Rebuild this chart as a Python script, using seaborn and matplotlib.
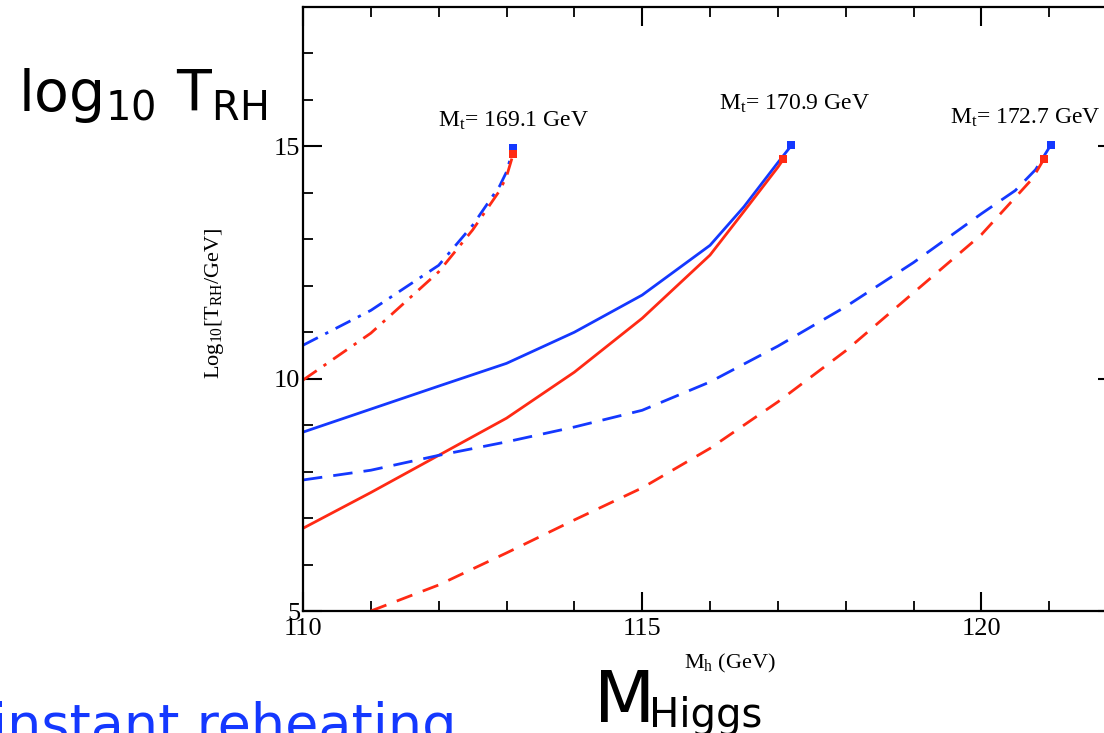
import pandas as pd
import matplotlib.pyplot as plt
import seaborn as sns

# Higgs mass (GeV) vs log10(T_RH / GeV), three top masses, blue / red sets
mh_169 = [110, 111, 112, 112.5, 112.9, 113.0, 113.1]
blue_169 = [10.72, 11.47, 12.44, 13.3, 14.15, 14.45, 14.96]
red_169 = [9.97, 10.98, 12.3, 13.2, 14.05, 14.35, 14.84]

mh_171_blue = [110, 112, 113, 114, 115, 116, 116.5, 117.0, 117.2]
blue_171 = [8.85, 9.84, 10.33, 11.0, 11.8, 12.87, 13.7, 14.65, 15.02]
mh_171_red = [110, 111, 112, 113, 114, 115, 116, 116.5, 117.0, 117.08]
red_171 = [6.78, 7.55, 8.35, 9.15, 10.14, 11.3, 12.66, 13.6, 14.55, 14.72]

mh_173_blue = [110, 111, 112, 113, 114, 115, 116, 117, 118, 119, 120, 120.5, 120.8, 121.02]
blue_173 = [7.82, 8.03, 8.35, 8.64, 8.96, 9.32, 9.93, 10.7, 11.55, 12.5, 13.55, 14.05, 14.5, 15.02]
mh_173_red = [111, 112, 113, 114, 115, 116, 117, 118, 119, 120, 120.5, 120.75, 120.92]
red_173 = [5.0, 5.56, 6.25, 6.96, 7.65, 8.5, 9.5, 10.6, 11.85, 13.1, 13.9, 14.3, 14.72]

mt_labels = ['169.1', '170.9', '172.7']
mt_label_pos = [(113.1, 15.42), (117.25, 15.78), (120.65, 15.48)]

BLUE = '#1438ff'
RED = '#ff2a14'

sns.set_style('ticks')
plt.rcParams['font.family'] = ['Liberation Serif', 'DejaVu Serif']
plt.rcParams['mathtext.default'] = 'regular'
plt.rcParams['text.color'] = 'black'
plt.rcParams['axes.labelcolor'] = 'black'

fig = plt.figure(figsize=(11.04, 7.33), dpi=100)
W, H = 1104, 733
ax = fig.add_axes([303 / W, (H - 611) / H, (1117 - 303) / W, (611 - 7) / H])

series = [
    (mh_169, blue_169, BLUE, (0, (6, 3, 1.2, 3))),
    (mh_169, red_169, RED, (0, (6, 3, 1.2, 3))),
    (mh_171_blue, blue_171, BLUE, '-'),
    (mh_171_red, red_171, RED, '-'),
    (mh_173_blue, blue_173, BLUE, (0, (7, 4))),
    (mh_173_red, red_173, RED, (0, (6, 4))),
]
for xs, ys, col, ls in series:
    df = pd.DataFrame({'mh': xs, 'logT': ys})
    sns.lineplot(data=df, x='mh', y='logT', ax=ax, color=col, linestyle=ls,
                 linewidth=2.0, errorbar=None, marker='s', markevery=[len(xs) - 1],
                 markersize=6, markeredgewidth=0, sort=False)

ax.set_xlim(110, 122)
ax.set_ylim(5, 18)
ax.set_xticks([110, 115, 120])
ax.set_xticks(range(110, 123), minor=True)
ax.set_yticks([5, 10, 15])
ax.set_yticks(range(5, 19), minor=True)
ax.tick_params(which='major', direction='in', length=14, width=1.5, color='black',
               labelcolor='black', top=True, right=True, labelsize=19, pad=5)
ax.tick_params(which='minor', direction='in', length=7.5, width=1.3, color='black',
               top=True, right=True)
ax.tick_params(axis='y', which='major', pad=2)
for s in ax.spines.values():
    s.set_linewidth(1.6)
    s.set_color('black')

ax.set_xlabel(r'$M_h$ (GeV)', fontsize=16)
ax.xaxis.set_label_coords((730 - 303) / 814, (611 - 652) / 604)
ax.set_ylabel(r'$Log_{10}[T_{RH}/GeV]$', fontsize=16)
ax.yaxis.set_label_coords((226 - 303) / 814, (611 - 303) / 604)

for lab, (xp, yp) in zip(mt_labels, mt_label_pos):
    ax.text(xp, yp, r'$M_t$= ' + lab + ' GeV', fontsize=17, ha='center', va='baseline')

# slide annotations on top of the figure
sans = ['DejaVu Sans']
fig.text(18 / W, 1 - 111 / H, r'$\mathregular{log_{10}\ T_{RH}}$', fontsize=41,
         family=sans, va='baseline')
fig.text(594 / W, 1 - 722 / H, 'M', fontsize=51, family=sans, va='baseline')
fig.text(649 / W, 1 - 727 / H, 'Higgs', fontsize=29, family=sans, va='baseline')
fig.text(-8 / W, 1 - 742 / H, 'instant reheating', fontsize=39, family=sans,
         va='baseline', color=BLUE)

fig.savefig('out.png', dpi=100)
